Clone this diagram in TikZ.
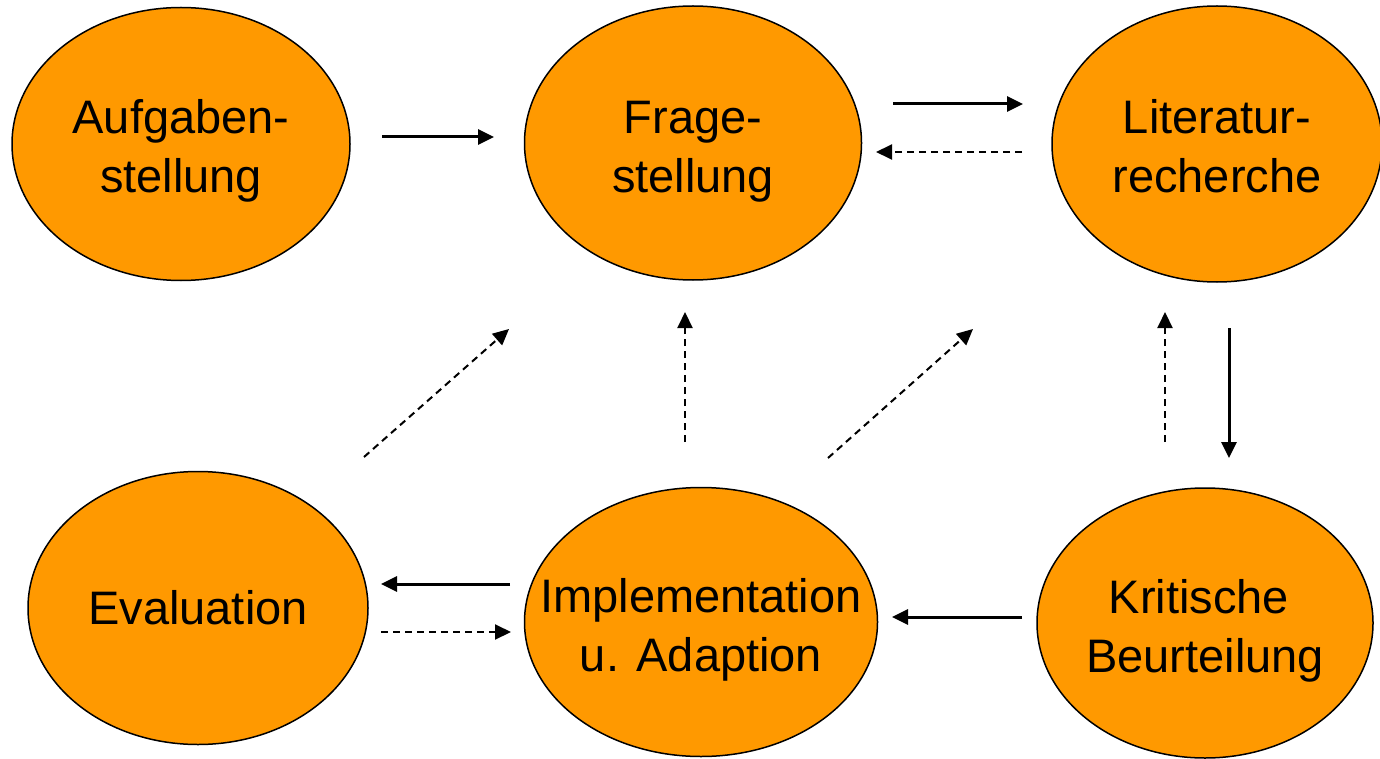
\documentclass[tikz,border=0pt]{standalone}
\usepackage{fontspec}
\setmainfont{Liberation Sans}
\usetikzlibrary{shapes.geometric,arrows.meta}
\definecolor{phaseorange}{HTML}{FF9900}
\begin{document}
\begin{tikzpicture}[x=1pt,y=-1pt,
  phase/.style={ellipse,draw=black,line width=1.5pt,fill=phaseorange,inner sep=0pt},
  phasetext/.style={align=center,inner sep=0pt,font=\fontsize{47}{59}\selectfont},
  solidarrow/.style={line width=3pt,-{Triangle[length=16pt,width=15pt]}},
  dasharrow/.style={line width=2pt,dash pattern=on 7pt off 5pt,-{Triangle[length=16pt,width=15pt]}}]
\useasboundingbox (0,0) rectangle (1380,759);
\node[phase,minimum width=338pt,minimum height=273pt,
  label={[phasetext,yshift=-7pt]center:Aufgaben-\\stellung}] (auf) at (181,144) {};
\node[phase,minimum width=337pt,minimum height=274pt,
  label={[phasetext,yshift=-9pt]center:Frage-\\stellung}] (fra) at (693,143) {};
\node[phase,minimum width=330pt,minimum height=276pt,
  label={[phasetext,yshift=-2pt]center:Literatur-\\recherche}] (lit) at (1217,144) {};
\node[phase,minimum width=340pt,minimum height=273pt,
  label={[phasetext]center:Evaluation}] (eva) at (198,608) {};
\node[phase,minimum width=353pt,minimum height=269pt,
  label={[phasetext,yshift=-8pt]center:Implementation\\u. Adaption}] (imp) at (701,622) {};
\node[phase,minimum width=336pt,minimum height=270pt,
  label={[phasetext,yshift=-8pt]center:Kritische\hspace*{12pt}\\Beurteilung}] (kri) at (1205,623) {};
% free arrow ends
\coordinate (a1s) at (382,137); \coordinate (a1e) at (494,137);
\coordinate (a2s) at (893,104); \coordinate (a2e) at (1023,104);
\coordinate (a3s) at (1022,152); \coordinate (a3e) at (876,152);
\coordinate (a4s) at (1229,328); \coordinate (a4e) at (1229,458);
\coordinate (a5s) at (1165,442); \coordinate (a5e) at (1165,312);
\coordinate (a6s) at (828,458); \coordinate (a6e) at (973,329);
\coordinate (a7s) at (685,442); \coordinate (a7e) at (685,312);
\coordinate (a8s) at (364,457); \coordinate (a8e) at (509,329);
\coordinate (a9s) at (1022,617); \coordinate (a9e) at (892,617);
\coordinate (a10s) at (510,584); \coordinate (a10e) at (381,584);
\coordinate (a11s) at (381,632); \coordinate (a11e) at (511,632);
\draw[solidarrow] (a1s) -- (a1e);
\draw[solidarrow] (a2s) -- (a2e);
\draw[dasharrow] (a3s) -- (a3e);
\draw[solidarrow] (a4s) -- (a4e);
\draw[dasharrow] (a5s) -- (a5e);
\draw[dasharrow] (a6s) -- (a6e);
\draw[dasharrow] (a7s) -- (a7e);
\draw[dasharrow] (a8s) -- (a8e);
\draw[solidarrow] (a9s) -- (a9e);
\draw[solidarrow] (a10s) -- (a10e);
\draw[dasharrow] (a11s) -- (a11e);
\end{tikzpicture}
\end{document}
